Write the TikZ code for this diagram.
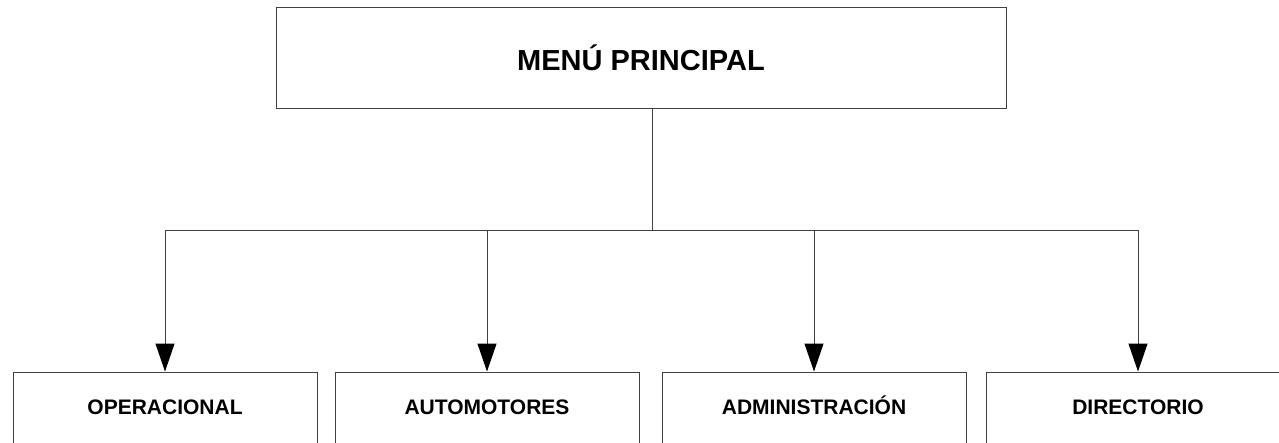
\documentclass[tikz,border=0pt]{standalone}
\usepackage{fontspec}
\setmainfont{Liberation Sans}
\usetikzlibrary{arrows.meta, positioning}

\begin{document}
\begin{tikzpicture}[x=1pt, y=-1pt,
	menubox/.style={rectangle,draw=black!75,line width=1pt,minimum width=730pt,minimum height=101pt,
		text height=25pt,text depth=0pt,font=\fontsize{29}{34}\selectfont\bfseries},
	subbox/.style={rectangle,draw=black!75,line width=1pt,minimum width=304pt,minimum height=74pt,
		text height=15pt,text depth=5pt,font=\fontsize{21}{25}\selectfont\bfseries},
	link/.style={draw=black!75,line width=1pt},
	arrow/.style={link,-{Triangle[width=19pt,length=28pt,color=black]}}
]
\useasboundingbox (0,0) rectangle (1279,442);

% Main menu
\node[menubox] (menu) at (641,57.5) {MENÚ PRINCIPAL};

% Sub-menus
\node[subbox] (oper) at (165,409) {OPERACIONAL};
\node[subbox] (auto) at (487,409) {AUTOMOTORES};
\node[subbox] (admin) at (814,409) {ADMINISTRACIÓN};
\node[subbox] (dir) at (1138,409) {DIRECTORIO};

% Branches
\coordinate (split) at (652,230);
\draw[link] (menu.south -| split) -- (split);
\draw[link] (oper |- split) -- (dir |- split);
\foreach \n in {oper,auto,admin,dir}
	\draw[arrow] (\n |- split) -- (\n.north);

\end{tikzpicture}
\end{document}
